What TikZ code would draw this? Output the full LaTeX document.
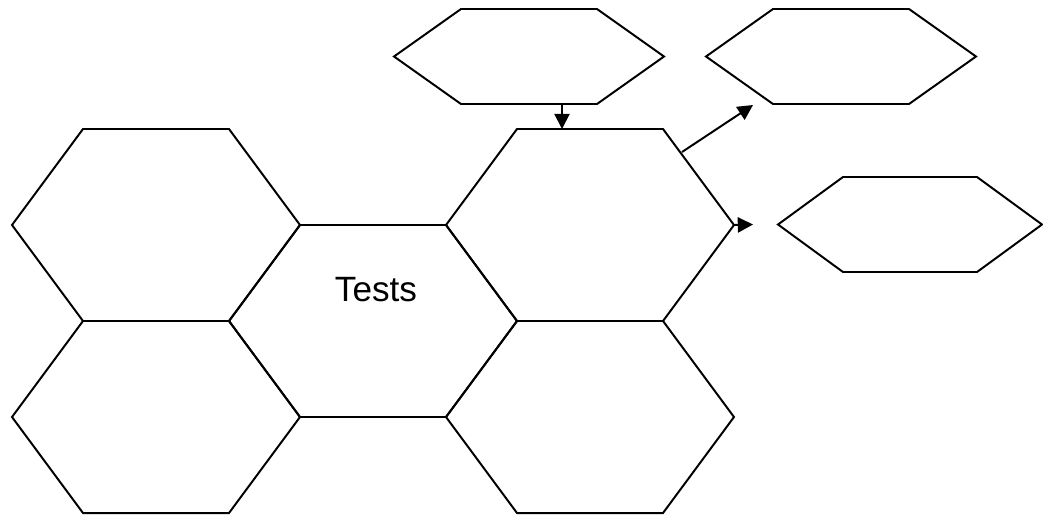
\documentclass[tikz,border=0pt]{standalone}
\usepackage{fontspec}
\setmainfont{Liberation Sans}
\usepackage{tikz}
\usetikzlibrary{arrows.meta,positioning,calc}

% one unit = one pixel of the 1043x516 layout
\def\px{0.025cm}

\tikzset{
    hexcell box/.style={draw=none, inner sep=0pt, outer sep=0pt},
    hexline/.style={line width=1.4pt, line join=miter},
    flow/.style={line width=1.4pt, -{Triangle[length=0.38cm, width=0.38cm]}},
    hex label/.style={font=\fontsize{25}{30}\selectfont}
}

% name, centre, width, height, corner inset
\newcommand{\hexcell}[5]{%
    \node [hexcell box, minimum width=#3*\px, minimum height=#4*\px] (#1) at (#2) {};
    \draw [hexline] (#1.west) -- ([shift={(#5,0)}]#1.north west) -- ([shift={(-#5,0)}]#1.north east)
        -- (#1.east) -- ([shift={(-#5,0)}]#1.south east) -- ([shift={(#5,0)}]#1.south west) -- cycle;
}

\begin{document}
\begin{tikzpicture}[x=0.025cm, y=-0.025cm]

\useasboundingbox (0,0) rectangle (1043,516);

% Big honeycomb cells (step 217 across, 96 down)
\hexcell{hexA}{156,225}{288}{192}{71}
\hexcell{hexB}{156,417}{288}{192}{71}
\hexcell{hexC}{373,321}{288}{192}{71}
\hexcell{hexD}{590,225}{288}{192}{71}
\hexcell{hexE}{590,417}{288}{192}{71}

% Small cells
\hexcell{hexT}{529,56.5}{270}{95}{67}
\hexcell{hexU}{841,56.5}{270}{95}{67}
\hexcell{hexV}{910,224.5}{264}{95}{65}

% Label
\node [hex label] (testsLabel) at ([shift={(3,-31)}]hexC.center) {Tests};

% Connectors
\draw [flow] ([shift={(33,0)}]hexT.south) -- ([shift={(33,0)}]hexT.south |- hexD.north);
\draw [flow] ([shift={(-52,23)}]hexD.north east) -- ([shift={(47,1)}]hexU.south west);
\draw [flow] (hexD.east) -- ([shift={(-25,0)}]hexV.west);

\end{tikzpicture}
\end{document}
